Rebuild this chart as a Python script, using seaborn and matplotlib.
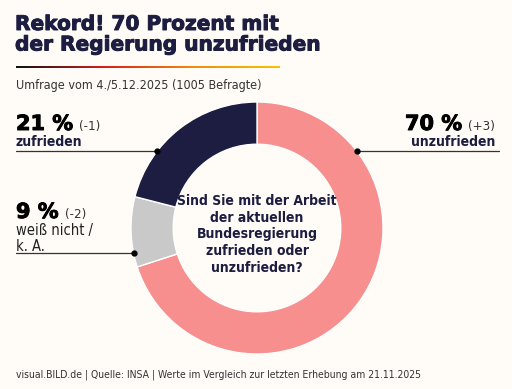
import numpy as np
import matplotlib
matplotlib.use("Agg")
import matplotlib.pyplot as plt
import matplotlib.patheffects as pe
from matplotlib.colors import LinearSegmentedColormap
import seaborn as sns

# data
labels = ["unzufrieden", "weiß nicht / k. A.", "zufrieden"]
values = [70, 9, 21]
changes = ["(+3)", "(-2)", "(-1)"]
colors = ["#F68F8D", "#C9C9C9", "#1C1D40"]

BG = "#FFFCF7"
NAVY = "#1C1D40"
W, H = 512, 389

sns.set_theme(style="white")
plt.rcParams["font.family"] = ["DejaVu Sans"]
COND = dict(family=["DejaVu Sans"], fontstretch="condensed")

fig = plt.figure(figsize=(W / 100, H / 100), dpi=100, facecolor=BG)


def fx(x):
    return x / W


def fy(y):
    return 1 - y / H


def heavy(color):
    return [pe.withStroke(linewidth=0.7, foreground=color)]


# title + subtitle
fig.text(fx(15), fy(15), "Rekord! 70 Prozent mit\nder Regierung unzufrieden",
         fontsize=14.5, fontweight="bold", color=NAVY, va="top", ha="left",
         linespacing=1.1, path_effects=heavy(NAVY))
fig.text(fx(16), fy(86), "Umfrage vom 4./5.12.2025 (1005 Befragte)",
         fontsize=9, color="#333333", va="center", ha="left", **COND)

# gradient rule under the title
gax = fig.add_axes([fx(16), fy(68), fx(280) - fx(16), 2 / H])
cmap = LinearSegmentedColormap.from_list("flag", ["#111111", "#D81E1E", "#F08A10", "#F6C400"])
gax.imshow(np.linspace(0, 1, 256)[None, :], aspect="auto", cmap=cmap)
gax.axis("off")

# donut
cx, cy, r = 257, 228, 126
ax = fig.add_axes([fx(cx - r), fy(cy + r), 2 * r / W, 2 * r / H])
ax.set_facecolor(BG)
ax.pie(values, colors=colors, startangle=90, counterclock=False, radius=1,
       wedgeprops=dict(width=0.335, edgecolor="white", linewidth=1))
ax.set_xlim(-1, 1)
ax.set_ylim(-1, 1)
ax.set_aspect("equal")
ax.axis("off")

ax.text(0, -0.05, "Sind Sie mit der Arbeit\nder aktuellen\nBundesregierung\nzufrieden oder\nunzufrieden?",
        ha="center", va="center", fontsize=10, fontweight="bold", color=NAVY,
        linespacing=1.25, **COND)


# leader lines with dots on the outer edge
def leader(y_px, side, x_end_px):
    yd = (cy - y_px) / r
    xd = side * np.sqrt(1 - yd ** 2)
    xe = (x_end_px - cx) / r
    ax.plot([xe, xd], [yd, yd], color="#333333", lw=0.9, clip_on=False)
    ax.plot([xd], [yd], "o", color="black", ms=3.5, clip_on=False)


leader(151, -1, 16)
leader(253, -1, 16)
leader(151, 1, 499)

# labels
big = dict(fontsize=15, fontweight="bold", color="black", va="baseline",
           path_effects=heavy("black"))
small = dict(fontsize=9.5, color="#333333", va="baseline", **COND)
cat = dict(fontsize=10, fontweight="bold", color=NAVY, va="baseline", **COND)
plain = dict(fontsize=10.5, color="#222222", va="baseline", **COND)

# zufrieden
t = fig.text(fx(16), fy(130), f"{values[2]} %", ha="left", **big)
fig.canvas.draw()
bb = t.get_window_extent()
fig.text(fx(bb.x1 + 6), fy(130), changes[2], ha="left", **small)
fig.text(fx(16), fy(146), labels[2], ha="left", **cat)

# weiss nicht
t = fig.text(fx(16), fy(218), f"{values[1]} %", ha="left", **big)
fig.canvas.draw()
bb = t.get_window_extent()
fig.text(fx(bb.x1 + 6), fy(218), changes[1], ha="left", **small)
fig.text(fx(16), fy(235), "weiß nicht /", ha="left", **plain)
fig.text(fx(16), fy(251), "k. A.", ha="left", **plain)

# unzufrieden
c = fig.text(fx(495), fy(130), changes[0], ha="right", **small)
fig.canvas.draw()
bb = c.get_window_extent()
fig.text(fx(bb.x0 - 6), fy(130), f"{values[0]} %", ha="right", **big)
fig.text(fx(495), fy(146), labels[0], ha="right", **cat)

# footer
fig.text(fx(16), fy(375),
         "visual.BILD.de | Quelle: INSA | Werte im Vergleich zur letzten Erhebung am 21.11.2025",
         fontsize=7.5, color="#333333", va="center", ha="left", **COND)

fig.savefig("out.png", dpi=100, facecolor=BG)
